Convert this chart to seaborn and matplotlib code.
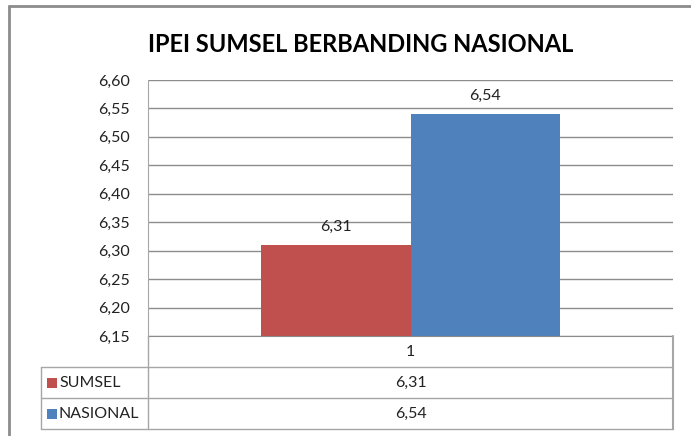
import pandas as pd
import numpy as np
import seaborn as sns
import matplotlib.pyplot as plt
from matplotlib.patches import Rectangle
from matplotlib.lines import Line2D

sns.set_style('white')
plt.rcParams['font.family'] = ['Lato', 'DejaVu Sans']

# data
categories = ['1']
series = ['SUMSEL', 'NASIONAL']
values = [6.31, 6.54]
colors = ['#C0504D', '#4F81BD']
yticks = [6.15, 6.20, 6.25, 6.30, 6.35, 6.40, 6.45, 6.50, 6.55, 6.60]
title = 'IPEI SUMSEL BERBANDING NASIONAL'

def fmt(v):
    return f'{v:.2f}'.replace('.', ',')

df = pd.DataFrame({'kategori': categories * len(series), 'seri': series, 'nilai': values})

W, H = 691, 436
fig = plt.figure(figsize=(W / 100, H / 100), dpi=100)

def fx(px):
    return px / W

def fy(py):
    return 1 - py / H

grid_c = '#8c8c8c'
line_c = '#a6a6a6'
txt_c = '#222222'
fs = 11.5

# plot area in pixels
L, R, T, B = 148, 673, 80, 336
ax = fig.add_axes([fx(L), fy(B), fx(R) - fx(L), fy(T) - fy(B)])
sns.barplot(data=df, x='kategori', y='nilai', hue='seri', palette=colors,
            width=0.57, saturation=1, ax=ax, legend=False, edgecolor='none')
ax.set_ylim(6.15, 6.60)
ax.set_yticks(yticks)
ax.set_yticklabels([fmt(t) for t in yticks], fontsize=fs, color=txt_c)
ax.set_xticks([])
ax.set_xlabel('')
ax.set_ylabel('')
ax.yaxis.grid(True, color=grid_c, lw=1)
ax.set_axisbelow(True)
ax.tick_params(axis='y', length=0, pad=13)
for s in ['top', 'right']:
    ax.spines[s].set_visible(False)
ax.spines['left'].set_color(line_c)
ax.spines['bottom'].set_color(grid_c)
for c in ax.containers:
    ax.bar_label(c, labels=[fmt(v) for v in c.datavalues], padding=8,
                 fontsize=fs, color=txt_c)

fig.text(fx(361), fy(45), title, ha='center', va='center', fontsize=17,
         fontweight='bold', color='#000000')

# outer chart border (left and top only visible)
fig.add_artist(Line2D([fx(9), fx(9)], [fy(6), 0], color='#8c8c8c', lw=2))
fig.add_artist(Line2D([fx(9), 1], [fy(6), fy(6)], color='#8c8c8c', lw=2))

# data table
row_h = 31
tl, tr = 41, R
fig.add_artist(Line2D([fx(L), fx(L)], [fy(B), fy(B + row_h * 3)], color=line_c, lw=1))
fig.add_artist(Line2D([fx(R), fx(R)], [fy(B), fy(B + row_h * 3)], color=line_c, lw=1.5))
fig.add_artist(Line2D([fx(tl), fx(tl)], [fy(B + row_h), fy(B + row_h * 3)], color=line_c, lw=1))
for i in range(1, 4):
    y = B + row_h * i
    fig.add_artist(Line2D([fx(tl), fx(tr)], [fy(y), fy(y)], color=line_c, lw=1))
cx = (L + R) / 2
fig.text(fx(cx), fy(B + row_h / 2), categories[0], ha='center', va='center',
         fontsize=fs, color=txt_c)
for i, (name, val, col) in enumerate(zip(series, values, colors)):
    ymid = B + row_h * (i + 1.5)
    fig.patches.append(Rectangle((fx(47), fy(ymid + 5)), fx(10), fy(ymid - 5) - fy(ymid + 5),
                                 transform=fig.transFigure, facecolor=col, edgecolor='none'))
    fig.text(fx(59), fy(ymid), name, ha='left', va='center', fontsize=fs, color=txt_c)
    fig.text(fx(cx), fy(ymid), fmt(val), ha='center', va='center', fontsize=fs, color=txt_c)

fig.savefig('out.png', dpi=100)
